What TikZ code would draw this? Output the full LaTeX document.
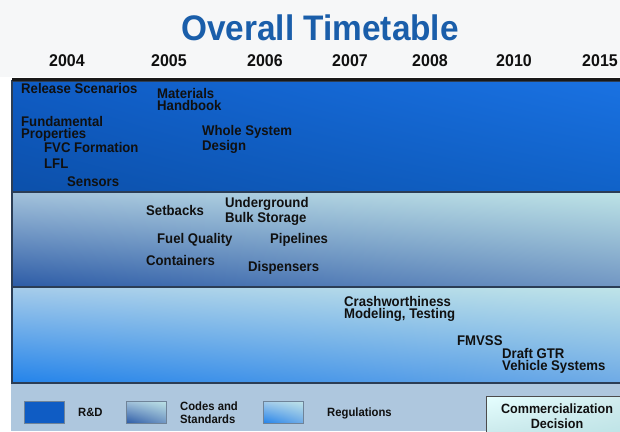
\documentclass[tikz,border=0pt]{standalone}
\usepackage{fontspec}
\setmainfont{Liberation Sans}[FakeStretch=0.94]
\usepackage{tikz}
\usetikzlibrary{positioning,shadings}

\definecolor{titleblue}{HTML}{1A5EAA}
\definecolor{itemtext}{HTML}{101010}
\definecolor{titlebg}{HTML}{F6F7F8}
\definecolor{keybg}{HTML}{AEC7DE}
\definecolor{bandedge}{HTML}{2B3D55}
\definecolor{swatchedge}{HTML}{6F8398}
% R&D band
\definecolor{rdTL}{HTML}{0F5CC4}
\definecolor{rdTR}{HTML}{1A72E2}
\definecolor{rdBL}{HTML}{0C50AA}
\definecolor{rdBR}{HTML}{1062C8}
% codes and standards band
\definecolor{csTL}{HTML}{A3C2DB}
\definecolor{csTR}{HTML}{BDE3E6}
\definecolor{csBL}{HTML}{2C5BA6}
\definecolor{csBR}{HTML}{7196C3}
% regulations band
\definecolor{rgTL}{HTML}{A6CCEA}
\definecolor{rgTR}{HTML}{BFE4E8}
\definecolor{rgBL}{HTML}{2383EA}
\definecolor{rgBR}{HTML}{6EAAE6}

\newcommand\itemfont{\fontsize{14}{11.5}\selectfont\bfseries}
\newcommand\yearfont{\fontsize{17}{17}\selectfont\bfseries}
\newcommand\titlefont{\fontsize{35.5}{36}\selectfont\bfseries}
\newcommand\keyfont{\fontsize{12}{13}\selectfont\bfseries}
\newcommand\decisionfont{\fontsize{13.4}{15}\selectfont\bfseries}

\begin{document}
\begin{tikzpicture}
			[x=1pt, y=-1pt,
			item/.style={anchor=base west, inner sep=0pt, align=left,
				font=\itemfont, text=itemtext},
			year/.style={anchor=base, inner sep=0pt, font=\yearfont, text=itemtext},
			key/.style={anchor=base west, inner sep=0pt, align=left,
				font=\keyfont, text=itemtext},
			band/.style={draw=bandedge, line width=1.2pt},
			swatch/.style={draw=swatchedge, line width=0.8pt},
			]
			\useasboundingbox (0,0) rectangle (620,431);
			\fill[titlebg] (0,0) rectangle (620,77);
			\fill[keybg] (11,383) rectangle (620,431);
			
			% the three bands
			\shade[band, upper left=rdTL, upper right=rdTR, lower left=rdBL, lower right=rdBR]
				(12,81) rectangle (622,192);
			\shade[band, upper left=csTL, upper right=csTR, lower left=csBL, lower right=csBR]
				(12,192) rectangle (622,287);
			\shade[band, upper left=rgTL, upper right=rgTR, lower left=rgBL, lower right=rgBR]
				(12,287) rectangle (622,383);
			\draw[line width=3pt, black!90] (12,79.5) -- (620,79.5);
			
			\node (title) [anchor=base, inner sep=0pt, font=\titlefont, text=titleblue]
				at (320,40) {Overall Timetable};
			
			\node (y2004) [year] at (67,66.5) {2004};
			\node (y2005) [year] at (169,66.5) {2005};
			\node (y2006) [year] at (265,66.5) {2006};
			\node (y2007) [year] at (350,66.5) {2007};
			\node (y2008) [year] at (430,66.5) {2008};
			\node (y2010) [year] at (514,66.5) {2010};
			\node (y2015) [year] at (600,66.5) {2015};
			
			% R&D (base = last line)
			\node (release) [item] at (21,93) {Release Scenarios};
			\node (handbook) [item] at (157,110) {Materials\\Handbook};
			\node (fundamental) [item] at (21,138) {Fundamental\\Properties};
			\node (fvc) [item] at (44,152) {FVC Formation};
			\node (lfl) [item] at (44,168) {LFL};
			\node (sensors) [item] at (67,186) {Sensors};
			\node (whole) [item] at (202,150) {Whole System\\Design};
			
			% codes and standards
			\node (setbacks) [item] at (146,215) {Setbacks};
			\node (bulk) [item] at (225,222) {Underground\\Bulk Storage};
			\node (fuel) [item] at (157,243) {Fuel Quality};
			\node (pipelines) [item] at (270,243) {Pipelines};
			\node (containers) [item] at (146,265) {Containers};
			\node (dispensers) [item] at (248,271) {Dispensers};
			
			% regulations
			\node (crash) [item] at (344,318) {Crashworthiness\\Modeling, Testing};
			\node (fmvss) [item] at (457,345) {FMVSS};
			\node (gtr) [item] at (502,370) {Draft GTR\\Vehicle Systems};
			
			% legend
			\fill[swatch, fill=rdTL] (24,401) rectangle (64,423);
			\shade[swatch, upper left=csTL, upper right=csTR, lower left=csBL, lower right=csBR]
				(126,401) rectangle (166,423);
			\shade[swatch, upper left=rgTL, upper right=rgTR, lower left=rgBL, lower right=rgBR]
				(263,401) rectangle (303,423);
			\node (keyrd) [key] at (78,416) {R\&D};
			\node (keycs) [key] at (180,423) {Codes and\\Standards};
			\node (keyrg) [key] at (327,416) {Regulations};
			
			\shade[draw=black!70, line width=1pt, upper left=white!90!cyan, upper right=csTR!70!white,
				lower left=csTR!80!white, lower right=csTR]
				(486,396) rectangle (624,435);
			\node (decision) [anchor=base, inner sep=0pt, align=center, font=\decisionfont,
				text=itemtext] at (557,428) {Commercialization\\Decision};
		\end{tikzpicture}
\end{document}
